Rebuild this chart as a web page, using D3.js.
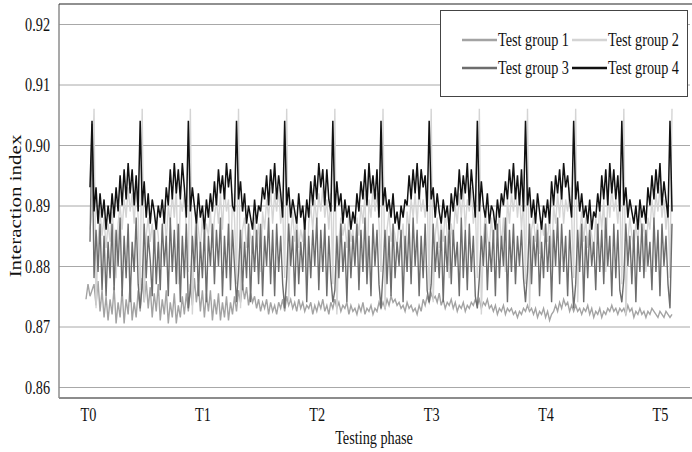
<!DOCTYPE html>
<html>
<head>
<meta charset="utf-8">
<script src="https://cdn.jsdelivr.net/npm/d3@7"></script>
<style>
  html, body { margin: 0; padding: 0; background: #fff; }
  svg { display: block; font-family: "Liberation Serif", "Times New Roman", serif; }
</style>
</head>
<body>
<svg id="chart" width="692" height="452"></svg>
<script>
// Testing phase labels and the sample index at which each one sits
const phaseLabels = ["T0", "T1", "T2", "T3", "T4", "T5"];
const phaseTickAt = [1, 58, 115, 172, 229, 286];

// Interaction index tick values
const yTicks = [0.86, 0.87, 0.88, 0.89, 0.90, 0.91, 0.92];

const seriesNames = ["Test group 1", "Test group 2", "Test group 3", "Test group 4"];

// Test group 1: low, slowly settling series
const group1 = [
  0.8745,0.8770,0.8750,0.8760,
  0.8770,0.8735,0.8775,0.8725,0.8760,0.8715,0.8750,0.8710,0.8745,0.8720,0.8765,0.8705,0.8740,0.8715,0.8760,0.8705,0.8745,0.8720,0.8770,0.8710,0.8740,0.8715,0.8760,0.8725,
  0.8780,0.8740,0.8775,0.8730,0.8765,0.8715,0.8755,0.8725,0.8770,0.8710,0.8745,0.8720,0.8760,0.8705,0.8740,0.8715,0.8755,0.8705,0.8735,0.8715,0.8750,0.8720,0.8755,0.8725,
  0.8770,0.8735,0.8780,0.8740,0.8770,0.8725,0.8760,0.8715,0.8755,0.8725,0.8760,0.8710,0.8745,0.8720,0.8755,0.8710,0.8740,0.8715,0.8750,0.8710,0.8740,0.8720,0.8750,0.8725,
  0.8760,0.8740,0.8770,0.8745,0.8765,0.8735,0.8755,0.8740,0.8750,0.8730,0.8745,0.8725,0.8740,0.8730,0.8745,0.8720,0.8740,0.8725,0.8735,0.8720,0.8740,0.8730,0.8745,0.8725,
  0.8750,0.8735,0.8745,0.8730,0.8740,0.8725,0.8745,0.8730,0.8740,0.8725,0.8735,0.8730,0.8740,0.8720,0.8735,0.8725,0.8740,0.8730,0.8745,0.8725,0.8735,0.8720,0.8740,0.8730,
  0.8745,0.8730,0.8740,0.8725,0.8735,0.8730,0.8740,0.8720,0.8735,0.8725,0.8730,0.8720,0.8735,0.8725,0.8740,0.8720,0.8730,0.8725,0.8735,0.8720,0.8730,0.8725,0.8740,0.8730,
  0.8740,0.8730,0.8745,0.8735,0.8750,0.8740,0.8745,0.8735,0.8740,0.8730,0.8735,0.8725,0.8740,0.8730,0.8735,0.8725,0.8730,0.8720,0.8735,0.8725,0.8745,0.8735,0.8750,0.8740,
  0.8755,0.8745,0.8750,0.8740,0.8755,0.8735,0.8745,0.8730,0.8740,0.8735,0.8745,0.8730,0.8740,0.8725,0.8735,0.8730,0.8740,0.8725,0.8735,0.8730,0.8740,0.8735,0.8745,0.8735,
  0.8745,0.8730,0.8740,0.8735,0.8745,0.8730,0.8735,0.8725,0.8735,0.8720,0.8730,0.8725,0.8735,0.8720,0.8730,0.8725,0.8730,0.8720,0.8725,0.8715,0.8725,0.8720,0.8730,0.8725,
  0.8735,0.8725,0.8730,0.8720,0.8730,0.8715,0.8725,0.8720,0.8730,0.8715,0.8725,0.8710,0.8720,0.8725,0.8735,0.8725,0.8740,0.8730,0.8745,0.8735,0.8740,0.8725,0.8735,0.8725,
  0.8735,0.8725,0.8730,0.8720,0.8730,0.8725,0.8735,0.8720,0.8730,0.8715,0.8725,0.8720,0.8730,0.8715,0.8725,0.8720,0.8730,0.8725,0.8735,0.8725,0.8730,0.8720,0.8730,0.8725,
  0.8730,0.8720,0.8735,0.8725,0.8730,0.8715,0.8725,0.8720,0.8730,0.8720,0.8725,0.8715,0.8725,0.8720,0.8730,0.8725,0.8720,0.8715,0.8725,0.8720,0.8715,0.8725,0.8720,0.8715,
  0.8720
];

// Test group 2: light series, spikes right after each group 4 peak
const group2 = [
  null,null,0.886,0.889,
  0.906,0.873,0.884,0.889,0.885,0.888,0.883,0.887,0.884,0.889,0.885,0.878,0.887,0.890,0.886,0.891,0.888,0.893,0.889,0.892,0.887,0.893,0.888,0.876,
  0.906,0.874,0.885,0.888,0.884,0.887,0.882,0.888,0.885,0.880,0.886,0.889,0.884,0.890,0.887,0.892,0.888,0.893,0.877,0.891,0.889,0.892,0.886,0.879,
  0.906,0.872,0.884,0.889,0.886,0.883,0.888,0.884,0.887,0.885,0.889,0.883,0.888,0.891,0.887,0.892,0.886,0.893,0.889,0.891,0.878,0.892,0.888,0.877,
  0.906,0.873,0.886,0.888,0.883,0.887,0.885,0.882,0.888,0.884,0.887,0.879,0.889,0.886,0.891,0.888,0.893,0.887,0.892,0.889,0.893,0.887,0.890,0.878,
  0.906,0.874,0.885,0.889,0.884,0.888,0.883,0.886,0.884,0.888,0.877,0.887,0.890,0.886,0.891,0.887,0.892,0.889,0.893,0.888,0.891,0.886,0.892,0.877,
  0.906,0.872,0.884,0.888,0.885,0.887,0.883,0.889,0.884,0.886,0.882,0.888,0.885,0.890,0.887,0.892,0.878,0.891,0.888,0.893,0.889,0.892,0.887,0.879,
  0.906,0.873,0.886,0.889,0.884,0.887,0.885,0.883,0.888,0.884,0.887,0.880,0.889,0.886,0.891,0.888,0.892,0.887,0.893,0.889,0.891,0.888,0.892,0.876,
  0.906,0.874,0.885,0.888,0.883,0.887,0.884,0.889,0.885,0.878,0.887,0.884,0.890,0.887,0.892,0.888,0.893,0.886,0.891,0.889,0.893,0.887,0.890,0.878,
  0.906,0.872,0.884,0.889,0.885,0.883,0.888,0.884,0.887,0.885,0.889,0.883,0.888,0.879,0.891,0.887,0.892,0.889,0.893,0.888,0.892,0.886,0.891,0.877,
  0.906,0.873,0.886,0.888,0.884,0.887,0.882,0.888,0.885,0.887,0.884,0.889,0.880,0.890,0.887,0.892,0.888,0.893,0.887,0.891,0.889,0.893,0.888,0.878,
  0.906,0.874,0.885,0.889,0.884,0.888,0.883,0.887,0.885,0.882,0.888,0.884,0.890,0.886,0.891,0.879,0.892,0.888,0.893,0.889,0.891,0.887,0.892,0.877,
  0.906,0.872,0.884,0.888,0.885,0.883,0.887,0.884,0.889,0.885,0.887,0.879,0.888,0.886,0.891,0.887,0.892,0.889,0.893,0.888,0.891,0.886,0.890,0.878,
  0.906
];

// Test group 3: dark, strongly fluctuating series
const group3 = [
  null,null,0.884,0.9035,
  0.878,0.886,0.879,0.887,0.876,0.885,0.875,0.884,0.878,0.887,0.876,0.886,0.880,0.888,0.875,0.885,0.878,0.887,0.874,0.884,0.879,0.888,0.877,0.873,
  0.877,0.887,0.878,0.885,0.881,0.875,0.886,0.877,0.884,0.876,0.887,0.880,0.885,0.875,0.888,0.879,0.886,0.877,0.887,0.874,0.885,0.878,0.887,0.873,
  0.876,0.885,0.879,0.887,0.875,0.884,0.878,0.886,0.874,0.885,0.880,0.887,0.877,0.886,0.880,0.888,0.875,0.885,0.878,0.887,0.876,0.886,0.880,0.874,
  0.879,0.886,0.876,0.884,0.878,0.887,0.874,0.885,0.879,0.886,0.877,0.887,0.875,0.885,0.880,0.888,0.877,0.886,0.875,0.887,0.879,0.885,0.877,0.873,
  0.878,0.887,0.880,0.885,0.875,0.886,0.877,0.884,0.879,0.887,0.874,0.885,0.878,0.886,0.880,0.888,0.876,0.886,0.879,0.887,0.875,0.885,0.878,0.874,
  0.876,0.885,0.878,0.887,0.879,0.884,0.874,0.886,0.878,0.885,0.880,0.887,0.876,0.886,0.879,0.888,0.877,0.885,0.875,0.887,0.880,0.886,0.877,0.873,
  0.879,0.886,0.877,0.885,0.875,0.887,0.878,0.884,0.880,0.886,0.874,0.885,0.879,0.887,0.877,0.888,0.880,0.886,0.875,0.885,0.878,0.887,0.876,0.874,
  0.877,0.887,0.879,0.884,0.878,0.886,0.874,0.885,0.879,0.887,0.877,0.886,0.880,0.884,0.875,0.888,0.878,0.886,0.876,0.887,0.879,0.885,0.875,0.873,
  0.878,0.885,0.880,0.887,0.876,0.884,0.879,0.886,0.875,0.887,0.878,0.885,0.880,0.888,0.874,0.886,0.879,0.887,0.877,0.885,0.880,0.886,0.878,0.874,
  0.879,0.887,0.877,0.885,0.880,0.886,0.875,0.884,0.878,0.887,0.879,0.885,0.874,0.886,0.880,0.888,0.877,0.887,0.879,0.885,0.875,0.886,0.879,0.873,
  0.877,0.886,0.879,0.887,0.874,0.885,0.878,0.886,0.880,0.884,0.876,0.887,0.879,0.886,0.877,0.888,0.880,0.885,0.875,0.887,0.878,0.886,0.876,0.874,
  0.878,0.887,0.880,0.885,0.877,0.886,0.874,0.885,0.879,0.887,0.878,0.886,0.880,0.884,0.876,0.888,0.879,0.886,0.875,0.887,0.880,0.885,0.877,0.873,
  0.887
];

// Test group 4: highest series, periodic peaks
const group4 = [
  null,null,0.893,0.904,
  0.889,0.893,0.887,0.892,0.888,0.891,0.886,0.890,0.887,0.892,0.888,0.893,0.889,0.895,0.890,0.896,0.891,0.897,0.892,0.896,0.890,0.895,0.889,0.904,
  0.890,0.894,0.888,0.892,0.887,0.891,0.889,0.886,0.890,0.888,0.891,0.887,0.893,0.890,0.896,0.891,0.897,0.892,0.896,0.891,0.897,0.893,0.888,0.904,
  0.889,0.893,0.890,0.887,0.892,0.888,0.890,0.886,0.891,0.888,0.892,0.889,0.894,0.890,0.896,0.892,0.895,0.891,0.897,0.893,0.896,0.890,0.889,0.904,
  0.891,0.894,0.889,0.892,0.887,0.890,0.888,0.886,0.891,0.887,0.890,0.889,0.893,0.891,0.895,0.890,0.896,0.892,0.897,0.891,0.895,0.892,0.888,0.904,
  0.890,0.893,0.888,0.891,0.889,0.887,0.892,0.888,0.890,0.886,0.891,0.888,0.894,0.890,0.895,0.891,0.897,0.893,0.896,0.890,0.896,0.891,0.889,0.904,
  0.889,0.894,0.890,0.892,0.887,0.891,0.888,0.890,0.886,0.889,0.887,0.892,0.889,0.894,0.891,0.896,0.890,0.897,0.892,0.895,0.891,0.896,0.888,0.904,
  0.890,0.893,0.889,0.891,0.888,0.892,0.887,0.889,0.886,0.890,0.888,0.891,0.890,0.895,0.891,0.896,0.892,0.897,0.891,0.896,0.893,0.895,0.889,0.904,
  0.891,0.893,0.888,0.892,0.889,0.887,0.891,0.888,0.890,0.886,0.892,0.889,0.893,0.890,0.896,0.891,0.895,0.892,0.897,0.890,0.896,0.892,0.888,0.904,
  0.889,0.894,0.890,0.888,0.892,0.887,0.890,0.889,0.886,0.891,0.888,0.892,0.890,0.894,0.891,0.896,0.892,0.897,0.891,0.895,0.890,0.896,0.889,0.904,
  0.890,0.893,0.888,0.891,0.887,0.892,0.889,0.886,0.890,0.888,0.891,0.887,0.894,0.890,0.895,0.892,0.896,0.891,0.897,0.893,0.895,0.891,0.888,0.904,
  0.891,0.894,0.889,0.892,0.888,0.890,0.887,0.891,0.886,0.889,0.888,0.892,0.889,0.895,0.891,0.896,0.890,0.897,0.892,0.896,0.891,0.895,0.889,0.904,
  0.890,0.893,0.888,0.891,0.889,0.887,0.890,0.886,0.891,0.888,0.890,0.887,0.893,0.890,0.895,0.891,0.896,0.892,0.897,0.890,0.894,0.891,0.888,0.904,
  0.889
];

const seriesValues = [group1, group2, group3, group4];
const seriesColors = ["#a3a3a3", "#d4d4d4", "#6d6d6d", "#111111"];
const seriesWidths = [1.4, 1.4, 1.4, 1.5];

// ---- layout ----
const plotLeft = 59, plotRight = 690, plotTop = 4, plotBottom = 398;
const fontSize = 19;      // text is set tall and narrow
const squeeze = 0.75;     // horizontal compression of every label
const svg = d3.select("#chart");
const nPoints = group1.length;

const x = d3.scaleLinear().domain([0, nPoints - 1]).range([86, 672]);
const y = d3.scaleLinear().domain([0.86, 0.92]).range([387, 24]);

// gridlines + y labels
const yAxis = d3.axisLeft(y)
  .tickValues(yTicks)
  .tickFormat(d3.format(".2f"))
  .tickSize(-(plotRight - plotLeft))
  .tickPadding(9);
const yg = svg.append("g")
  .attr("transform", `translate(${plotLeft},0)`)
  .call(yAxis);
yg.select(".domain").remove();
yg.selectAll(".tick line").attr("stroke", "#a8a8a8").attr("stroke-width", 1);
yg.selectAll(".tick text")
  .attr("fill", "#111").attr("font-size", fontSize)
  .attr("font-family", "Liberation Serif, serif")
  .attr("x", -9 / squeeze)
  .attr("transform", `scale(${squeeze},1)`);

// x labels
const xAxis = d3.axisBottom(x)
  .tickValues(phaseTickAt)
  .tickFormat((d, i) => phaseLabels[i])
  .tickSize(0)
  .tickPadding(10);
const xg = svg.append("g")
  .attr("transform", `translate(0,${plotBottom})`)
  .call(xAxis);
xg.select(".domain").remove();
xg.selectAll(".tick text")
  .attr("fill", "#111").attr("font-size", fontSize)
  .attr("font-family", "Liberation Serif, serif")
  .attr("transform", `scale(${squeeze},1)`);

// series lines, group 1 drawn first, group 4 on top
const line = d3.line()
  .defined(d => d != null)
  .x((d, i) => x(i))
  .y(d => y(d));

seriesValues.forEach((vals, k) => {
  svg.append("path")
    .datum(vals)
    .attr("fill", "none")
    .attr("stroke", seriesColors[k])
    .attr("stroke-width", seriesWidths[k])
    .attr("stroke-linejoin", "miter")
    .attr("d", line);
});

// frame: left and bottom axes, top rule
svg.append("line")
  .attr("x1", plotLeft).attr("x2", plotLeft)
  .attr("y1", plotTop).attr("y2", plotBottom)
  .attr("stroke", "#8c8c8c").attr("stroke-width", 1.5);
svg.append("line")
  .attr("x1", plotLeft).attr("x2", 692)
  .attr("y1", plotBottom).attr("y2", plotBottom)
  .attr("stroke", "#8c8c8c").attr("stroke-width", 2);
svg.append("line")
  .attr("x1", plotLeft).attr("x2", 692)
  .attr("y1", plotTop).attr("y2", plotTop)
  .attr("stroke", "#222").attr("stroke-width", 1.2);

// axis titles
svg.append("text")
  .attr("transform", `translate(374,444) scale(${squeeze},1)`)
  .attr("text-anchor", "middle")
  .attr("font-size", fontSize).attr("fill", "#111")
  .text("Testing phase");
svg.append("text")
  .attr("transform", `translate(21,206) scale(${squeeze},1) rotate(-90)`)
  .attr("text-anchor", "middle")
  .attr("font-size", 21).attr("fill", "#111")
  .text("Interaction index");

// legend
const legend = svg.append("g");
legend.append("rect")
  .attr("x", 440.5).attr("y", 10.5)
  .attr("width", 247).attr("height", 86)
  .attr("fill", "#fff").attr("stroke", "#444").attr("stroke-width", 1);
const legendPos = [[462, 40], [572, 40], [462, 68], [572, 68]];
seriesNames.forEach((name, k) => {
  const [lx, ly] = legendPos[k];
  legend.append("line")
    .attr("x1", lx).attr("x2", lx + 35)
    .attr("y1", ly).attr("y2", ly)
    .attr("stroke", seriesColors[k]).attr("stroke-width", 2.5);
  legend.append("text")
    .attr("transform", `translate(${lx + 36},${ly + 6}) scale(${squeeze},1)`)
    .attr("font-size", fontSize).attr("fill", "#111")
    .text(name);
});
</script>
</body>
</html>
